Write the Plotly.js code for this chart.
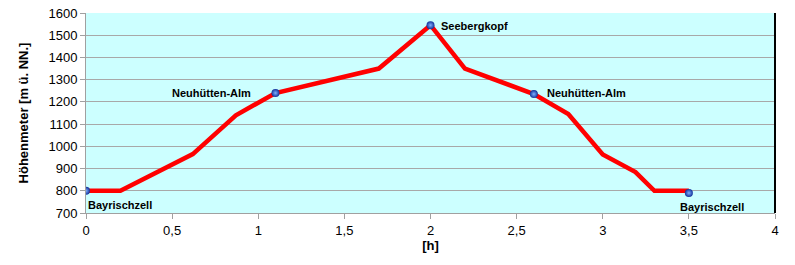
<!DOCTYPE html>
<html>
<head>
<meta charset="utf-8">
<script src="https://cdn.plot.ly/plotly-3.0.1.min.js"></script>
<style>html,body{margin:0;padding:0;background:#fff;}#chart{width:795px;height:265px;}</style>
</head>
<body>
<div id="chart"></div>
<script>
// Route profile: time [h] vs. altitude [m ü. NN.]
const timeH = [0, 0.2, 0.62, 0.87, 1.1, 1.7, 2.0, 2.2, 2.6, 2.8, 3.0, 3.19, 3.3, 3.5];
const altitude = [800, 800, 965, 1140, 1240, 1350, 1545, 1350, 1235, 1145, 963, 884, 800, 800];

// Waypoints (markers + labels)
const wpTime = [0, 1.1, 2.0, 2.6, 3.5];
const wpAlt = [800, 1240, 1545, 1235, 790];
const wpName = ["Bayrischzell", "Neuhütten-Alm", "Seebergkopf", "Neuhütten-Alm", "Bayrischzell"];

const xTicks = [0, 0.5, 1, 1.5, 2, 2.5, 3, 3.5, 4];
const yTicks = [700, 800, 900, 1000, 1100, 1200, 1300, 1400, 1500, 1600];

// label placement styling per waypoint
const labelStyle = [
  {xanchor: 'left', xshift: 0, yshift: -14},
  {xanchor: 'right', xshift: -22, yshift: 0},
  {xanchor: 'left', xshift: 8, yshift: -1},
  {xanchor: 'left', xshift: 11, yshift: 1},
  {xanchor: 'center', xshift: 23, yshift: -14}
];

const labelFont = {family: 'Liberation Sans, Arial, sans-serif', size: 11, color: '#000', weight: 'bold'};

const traces = [
  {
    x: timeH, y: altitude, type: 'scatter', mode: 'lines',
    line: {color: '#FF0000', width: 4.5},
    hoverinfo: 'skip', showlegend: false
  },
  {
    x: wpTime, y: wpAlt, type: 'scatter', mode: 'markers',
    marker: {size: 8, color: '#12309A', gradient: {type: 'radial', color: '#7FB0FF'}, line: {width: 0}},
    showlegend: false
  }
];

const annotations = wpName.map((n, i) => Object.assign({
  x: wpTime[i], y: wpAlt[i], xref: 'x', yref: 'y', text: n, showarrow: false,
  yanchor: 'middle', font: labelFont
}, labelStyle[i]));

const layout = {
  width: 795, height: 265,
  margin: {l: 86, r: 20, t: 13, b: 52, pad: 0},
  paper_bgcolor: '#FFFFFF',
  plot_bgcolor: '#CCFFFF',
  separators: ',.',
  showlegend: false,
  font: {family: 'Liberation Sans, Arial, sans-serif', size: 13, color: '#000'},
  xaxis: {
    range: [0, 4], tickvals: xTicks, ticktext: xTicks.map(v => String(v).replace('.', ',')),
    showgrid: false, zeroline: false,
    showline: true, linecolor: '#A0A0A0', linewidth: 1,
    ticks: 'outside', ticklen: 5, tickcolor: '#A0A0A0', tickwidth: 1,
    tickfont: {size: 13},
    title: {text: '[h]', font: {size: 13, weight: 'bold'}, standoff: 3},
    fixedrange: true
  },
  yaxis: {
    range: [700, 1600], tickvals: yTicks,
    showgrid: true, gridcolor: '#A8A8A8', gridwidth: 1, zeroline: false,
    showline: true, linecolor: '#A0A0A0', linewidth: 1,
    ticks: 'outside', ticklen: 5, tickcolor: '#A0A0A0', tickwidth: 1,
    tickfont: {size: 13},
    title: {text: 'Höhenmeter [m ü. NN.]', font: {size: 13, weight: 'bold'}, standoff: 16},
    fixedrange: true
  },
  shapes: [{
    type: 'line', xref: 'paper', yref: 'paper', x0: 1, x1: 1, y0: 0, y1: 1,
    line: {color: '#000000', width: 2}
  }],
  annotations: annotations
};

Plotly.newPlot('chart', traces, layout, {displayModeBar: false, staticPlot: true});
</script>
</body>
</html>
